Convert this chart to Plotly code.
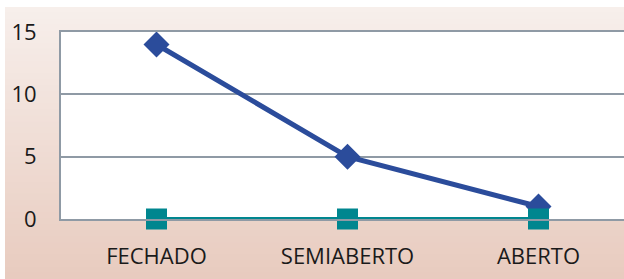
import plotly.graph_objects as go

categories = ["FECHADO", "SEMIABERTO", "ABERTO"]
series_blue = [14, 5, 1]
series_teal = [0, 0, 0]
y_ticks = [0, 5, 10, 15]

W, H = 624, 279
ML, MR, MT, MB = 61, 0, 32, 60
PW, PH = W - ML - MR, H - MT - MB
X_END = -0.5 + PW / 191.0

def px_to_paper_x(px):
    return (px - ML) / PW

def px_to_paper_y(py):
    return (H - MB - py) / PH

shapes = []
top = (247, 239, 235)
bot = (232, 203, 191)
y_start = 7
n = 45
for i in range(n):
    a = y_start + (H - y_start) * i / n
    b = y_start + (H - y_start) * (i + 1) / n
    t = (i + 0.5) / n
    c = tuple(round(top[k] + (bot[k] - top[k]) * t) for k in range(3))
    shapes.append(dict(type="rect", xref="paper", yref="paper",
                       x0=px_to_paper_x(5), x1=px_to_paper_x(W + 2),
                       y0=px_to_paper_y(b + 0.6 if i < n - 1 else H + 2), y1=px_to_paper_y(a if i == 0 else a - 0.6),
                       fillcolor="rgb(%d,%d,%d)" % c, line=dict(width=0), layer="below"))
shapes.append(dict(type="rect", xref="paper", yref="paper", x0=0, x1=1.02, y0=0, y1=1,
                   fillcolor="white", line=dict(width=0), layer="below"))

fig = go.Figure()
fig.add_trace(go.Scatter(x=categories, y=series_blue, mode="lines+markers",
                         line=dict(color="#2B4C9B", width=5),
                         marker=dict(symbol="diamond", size=20, color="#2B4C9B"),
                         cliponaxis=False, showlegend=False))
fig.add_trace(go.Scatter(x=categories, y=series_teal, mode="lines+markers",
                         line=dict(color="#00868F", width=4),
                         marker=dict(symbol="square", size=21, color="#00868F"),
                         cliponaxis=False, showlegend=False))

fig.update_layout(
    width=W, height=H,
    margin=dict(l=ML, r=MR, t=MT, b=MB, pad=0),
    paper_bgcolor="white", plot_bgcolor="rgba(0,0,0,0)",
    shapes=shapes,
    font=dict(family="Open Sans, sans-serif", size=21, color="#1a1a1a"),
    xaxis=dict(range=[-0.5, X_END], showgrid=False, zeroline=False,
               showline=True, mirror=True, linecolor="#8F9AA5", linewidth=2,
               ticks="outside", ticklen=17,
               tickcolor="rgba(0,0,0,0)", tickfont=dict(size=22)),
    yaxis=dict(range=[0, 15], tickvals=y_ticks, showgrid=True,
               gridcolor="#8F9AA5", gridwidth=2, zeroline=False,
               showline=True, linecolor="#8F9AA5", linewidth=2,
               ticks="outside", ticklen=18, tickcolor="rgba(0,0,0,0)",
               tickfont=dict(size=22)),
)
fig.write_html("out.html", config={"displayModeBar": False},
               post_script=("document.documentElement.style.overflow='hidden';"
                            "document.body.style.margin='0';"
                            "document.body.style.overflow='hidden';"))
